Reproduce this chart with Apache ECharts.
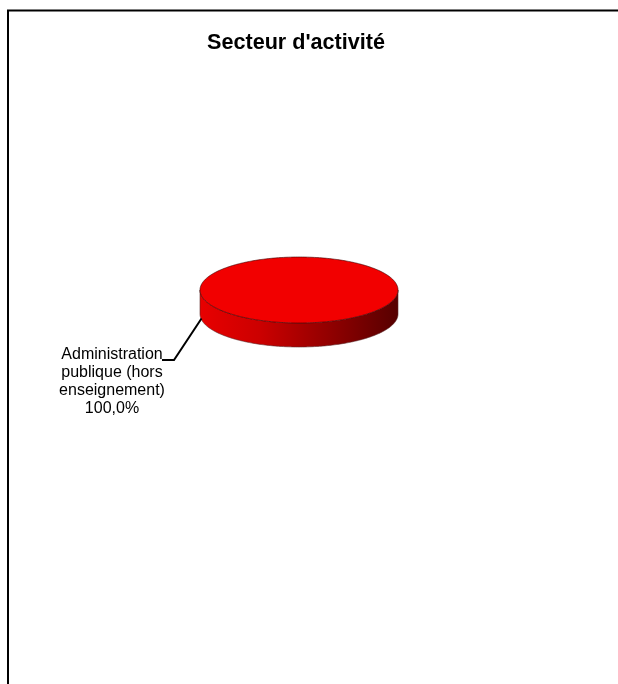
<!DOCTYPE html>
<html>
<head>
<meta charset="utf-8">
<script src="https://cdn.jsdelivr.net/npm/echarts@6/dist/echarts.min.js"></script>
<style>
html,body{margin:0;padding:0;background:#fff;}
#chart{width:618px;height:684px;}
</style>
</head>
<body>
<div id="chart"></div>
<script>
var title = "Secteur d'activité";
var categories = ['Administration publique (hors enseignement)'];
var labelLines = [['Administration', 'publique (hors', 'enseignement)']];
var values = [100];
var percentLabels = ['100,0%'];

var chart = echarts.init(document.getElementById('chart'), null, {renderer: 'canvas'});

var CX = 299, CY = 290, RX = 99, RY = 33, DEPTH = 24;
var total = values.reduce(function (a, b) { return a + b; }, 0);

function arcPoints(a0, a1, dy) {
  var pts = [];
  var n = Math.max(2, Math.ceil(Math.abs(a1 - a0) / (Math.PI / 180)));
  for (var i = 0; i <= n; i++) {
    var t = a0 + (a1 - a0) * i / n;
    pts.push([CX + RX * Math.cos(t), CY + dy + RY * Math.sin(t)]);
  }
  return pts;
}

function renderItem(params, api) {
  var idx = params.dataIndex;
  var before = 0;
  for (var i = 0; i < idx; i++) before += values[i];
  var v = api.value(0);
  var a0 = -Math.PI / 2 + 2 * Math.PI * before / total;
  var a1 = a0 + 2 * Math.PI * v / total;
  var children = [];
  var ranges = [[0, Math.PI], [2 * Math.PI, 3 * Math.PI], [-2 * Math.PI, -Math.PI]];
  ranges.forEach(function (r) {
    var s = Math.max(a0, r[0]), e = Math.min(a1, r[1]);
    if (e > s) {
      var top = arcPoints(s, e, 0);
      var bot = arcPoints(e, s, DEPTH);
      children.push({
        type: 'polygon',
        shape: {points: top.concat(bot)},
        style: {
          fill: new echarts.graphic.LinearGradient(0, 0, 1, 0, [
            {offset: 0, color: '#e80000'},
            {offset: 0.3, color: '#cc0000'},
            {offset: 0.65, color: '#920000'},
            {offset: 1, color: '#560000'}
          ]),
          stroke: '#5a2a2a',
          lineWidth: 0.6
        }
      });
    }
  });
  var topPts;
  if (v >= total) {
    topPts = arcPoints(a0, a1, 0);
  } else {
    topPts = [[CX, CY]].concat(arcPoints(a0, a1, 0));
  }
  children.push({
    type: 'polygon',
    shape: {points: topPts},
    style: {fill: '#f20000', stroke: '#3a0000', lineWidth: 0.6}
  });
  children.push({
    type: 'polyline',
    shape: {points: [[201.5, 318.5], [174, 360], [162, 360]]},
    style: {stroke: '#000', lineWidth: 2, fill: null}
  });
  children.push({
    type: 'text',
    style: {
      text: labelLines[idx].concat([percentLabels[idx]]).join('\n'),
      x: 112, y: 346,
      align: 'center', verticalAlign: 'top',
      font: '16px "Liberation Sans", Arial, sans-serif',
      lineHeight: 18,
      fill: '#000'
    }
  });
  return {type: 'group', children: children};
}

chart.setOption({
  animation: false,
  backgroundColor: '#fff',
  title: {
    text: title,
    left: 291, top: 27,
    textAlign: 'center',
    textStyle: {fontFamily: '"Liberation Sans", Arial, sans-serif', fontWeight: 'bold', fontSize: 21.6, color: '#000'}
  },
  graphic: [{
    type: 'rect',
    shape: {x: 8, y: 10.5, width: 800, height: 800},
    style: {fill: null, stroke: '#000', lineWidth: 2},
    silent: true,
    z: -1
  }],
  series: [{
    type: 'custom',
    coordinateSystem: 'none',
    name: categories[0],
    renderItem: renderItem,
    data: values.map(function (v, i) { return {name: categories[i], value: [v]}; })
  }]
});
</script>
</body>
</html>
